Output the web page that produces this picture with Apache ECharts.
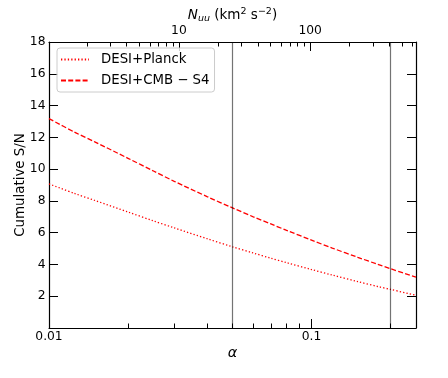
<!DOCTYPE html>
<html>
<head>
<meta charset="utf-8">
<script src="https://cdn.jsdelivr.net/npm/echarts@6/dist/echarts.min.js"></script>
<style>
  html, body { margin: 0; padding: 0; background: #fff; }
  #main { width: 448px; height: 378px; }
</style>
</head>
<body>
<div id="main"></div>
<script type="text/javascript">
// values
var alpha  = [0.01, 0.0125, 0.015, 0.02, 0.025, 0.03, 0.04, 0.05, 0.06, 0.07, 0.08, 0.1, 0.12, 0.15, 0.18, 0.2, 0.25];
var planck = [9.07, 8.47, 8.02, 7.30, 6.74, 6.30, 5.62, 5.11, 4.72, 4.39, 4.12, 3.68, 3.33, 2.92, 2.60, 2.43, 2.06];
var cmbS4  = [13.18, 12.33, 11.70, 10.68, 9.88, 9.23, 8.27, 7.56, 7.00, 6.55, 6.16, 5.53, 5.03, 4.45, 3.99, 3.73, 3.20];
var vLines = [0.05, 0.2];

// tick positions
var alphaMajor = [0.01, 0.1];
var alphaMinor = [0.02, 0.03, 0.04, 0.05, 0.06, 0.07, 0.08, 0.09, 0.2];
var nuuMajor = [10, 100];
var nuuMinor = [2, 3, 4, 5, 6, 7, 8, 9, 20, 30, 40, 50, 60, 70, 80, 90, 200, 300, 400, 500, 600];
var alphaRange = [0.01, 0.25];
var nuuRange = [1.024, 640];   // N_uu = 1.024e4 * alpha^2

var font = 'DejaVu Sans';

function pairs(ys) {
    return alpha.map(function (a, i) { return [a, ys[i]]; });
}

function xAx(pos, range, labels, ticks, len, withLine) {
    return {
        type: 'log', logBase: 10, position: pos, min: range[0], max: range[1],
        gridIndex: 0,
        axisLine: {show: withLine, lineStyle: {color: '#000', width: 1.2}},
        axisTick: {show: true, inside: true, length: len, customValues: ticks,
                   lineStyle: {color: '#000', width: 1}},
        axisLabel: {show: labels.length > 0, customValues: labels, margin: pos == 'top' ? 5 : 3,
                    color: '#000', fontSize: 12.3, fontFamily: font,
                    formatter: function (v) { return String(+v.toPrecision(6)); }},
        splitLine: {show: false},
        minorTick: {show: false}
    };
}

var myChart = echarts.init(document.getElementById('main'), null, {renderer: 'canvas'});

var bottomMajor = xAx('bottom', alphaRange, alphaMajor, alphaMajor, 9, true);
bottomMajor.name = 'α';
bottomMajor.nameLocation = 'middle';
bottomMajor.nameGap = 18;
bottomMajor.nameMoveOverlap = false;
bottomMajor.nameTextStyle = {fontSize: 14.5, fontStyle: 'italic', fontFamily: font, color: '#000'};

var topMajor = xAx('top', nuuRange, nuuMajor, nuuMajor, 9, true);
topMajor.name = '{i|N}{s|uu} (km{p|2} s{p|−2})';
topMajor.nameLocation = 'middle';
topMajor.nameGap = 18;
topMajor.nameMoveOverlap = false;
topMajor.nameTextStyle = {
    fontSize: 13.5, fontFamily: font, color: '#000',
    rich: {
        i: {fontSize: 13.5, fontStyle: 'italic', fontFamily: font, color: '#000'},
        s: {fontSize: 9.5, fontStyle: 'italic', fontFamily: font, color: '#000', padding: [7, 0, 0, 0]},
        p: {fontSize: 9.5, fontFamily: font, color: '#000', padding: [0, 0, 7, 0]}
    }
};

var option = {
    animation: false,
    backgroundColor: '#fff',
    grid: {left: 49, right: 32, top: 42, bottom: 50, containLabel: false, outerBoundsMode: 'none'},
    legend: {
        left: 57, top: 48, orient: 'vertical',
        itemWidth: 28, itemHeight: 14, itemGap: 8,
        padding: [5, 5, 5, 3],
        backgroundColor: 'rgba(255,255,255,0.8)',
        borderColor: '#cccccc', borderWidth: 1, borderRadius: 3,
        itemStyle: {opacity: 0},
        textStyle: {fontSize: 13.3, fontFamily: font, color: '#000', padding: [0, 0, 0, 7]},
        data: ['DESI+Planck', 'DESI+CMB − S4']
    },
    xAxis: [
        bottomMajor,
        xAx('bottom', alphaRange, [], alphaMinor, 4.5, false),
        topMajor,
        xAx('top', nuuRange, [], nuuMinor, 4.5, false)
    ],
    yAxis: [
        {
            type: 'value', position: 'left', min: 0, max: 18, interval: 2,
            name: 'Cumulative S/N', nameLocation: 'middle', nameGap: 22, nameMoveOverlap: false,
            nameTextStyle: {fontSize: 13.4, fontFamily: font, color: '#000'},
            axisLine: {show: true, lineStyle: {color: '#000', width: 1.2}},
            axisTick: {show: true, inside: true, length: 9, lineStyle: {color: '#000', width: 1}},
            axisLabel: {showMinLabel: false, margin: 3.5, color: '#000', fontSize: 12.3, fontFamily: font},
            splitLine: {show: false}
        },
        {
            type: 'value', position: 'right', min: 0, max: 18, interval: 2,
            axisLine: {show: true, lineStyle: {color: '#000', width: 1.2}},
            axisTick: {show: true, inside: true, length: 9, lineStyle: {color: '#000', width: 1}},
            axisLabel: {show: false},
            splitLine: {show: false}
        }
    ],
    series: [
        {
            name: 'DESI+Planck', type: 'line', xAxisIndex: 0, yAxisIndex: 0,
            data: pairs(planck), smooth: 0.3, showSymbol: false, symbol: 'none',
            lineStyle: {color: '#ff0000', width: 1.3, type: [1.3, 2.1]},
            itemStyle: {color: '#ff0000'},
            markLine: {
                silent: true, symbol: 'none', label: {show: false},
                lineStyle: {color: 'rgba(0,0,0,0.55)', width: 1.2, type: 'solid'},
                data: vLines.map(function (v) { return {xAxis: v}; })
            }
        },
        {
            name: 'DESI+CMB − S4', type: 'line', xAxisIndex: 0, yAxisIndex: 0,
            data: pairs(cmbS4), smooth: 0.3, showSymbol: false, symbol: 'none',
            lineStyle: {color: '#ff0000', width: 1.3, type: [5, 2.2]},
            itemStyle: {color: '#ff0000'}
        }
    ]
};
myChart.setOption(option);
</script>
</body>
</html>
